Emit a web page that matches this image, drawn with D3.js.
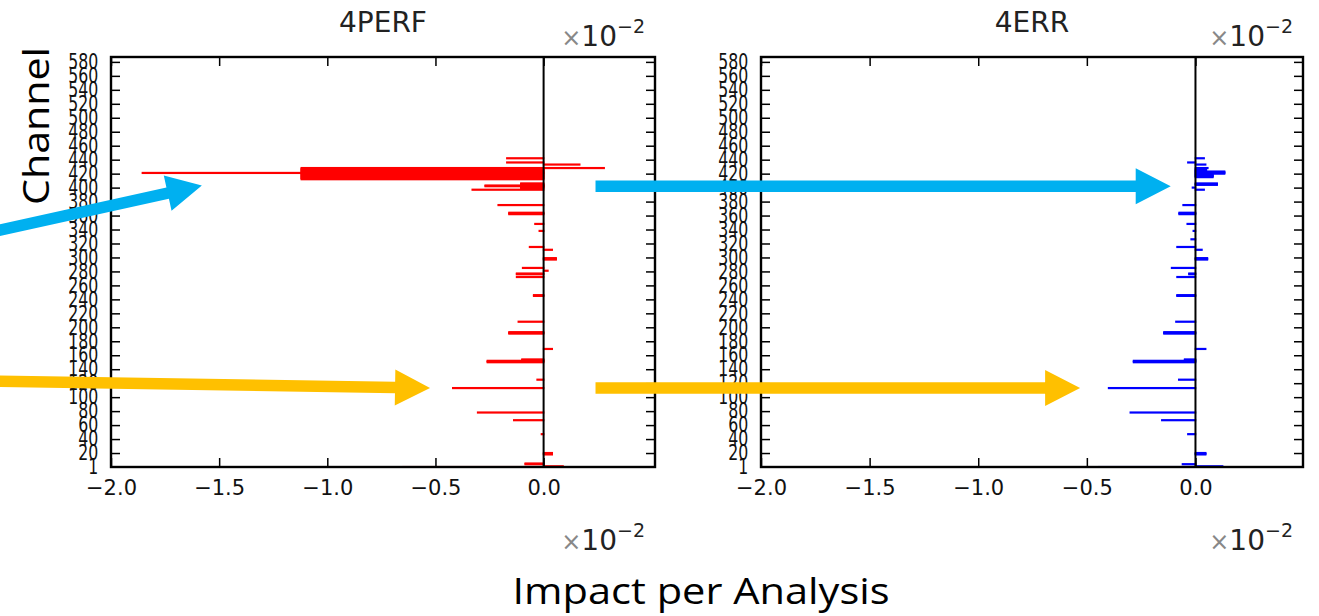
<!DOCTYPE html>
<html>
<head>
<meta charset="utf-8">
<script src="https://cdn.jsdelivr.net/npm/d3@7"></script>
<style>
  body { margin: 0; background: #fff; }
  svg text { font-family: "DejaVu Sans", sans-serif; }
  .axis path.domain { display: none; }
  .axis line { stroke: #000; stroke-width: 1.5; }
  .axis text { fill: #111; }
</style>
</head>
<body>
<div id="chart"></div>
<script>
// channel number / impact per analysis (units of 1e-2)
const perfChannels = [442, 436, 433, 428,
  412, 413, 414, 415, 416, 417, 418, 419, 420, 421, 422, 423, 424, 425, 426, 427, 428,
  421, 399, 400, 401, 402, 403, 404, 405, 406, 402, 403, 397,
  375, 362, 363, 364, 348, 338, 315, 311, 297, 298, 299, 285, 281, 276, 277, 272,
  245, 246, 208, 191, 192, 193, 169, 153, 154, 150, 151, 152, 125, 113, 78, 67, 47,
  18, 19, 20, 4, 5, 1];
const perfValues = [-0.17, -0.17, 0.167, 0.28,
  -1.12, -1.12, -1.12, -1.12, -1.12, -1.12, -1.12, -1.12, -1.12, -1.12, -1.12, -1.12, -1.12, -1.12, -1.12, -1.12, -1.12,
  -1.855, -0.105, -0.105, -0.105, -0.105, -0.105, -0.105, -0.105, -0.105, -0.27, -0.27, -0.33,
  -0.21, -0.16, -0.16, -0.16, -0.04, -0.02, -0.065, 0.04, 0.058, 0.058, 0.058, -0.097, 0.02, -0.125, -0.125, -0.125,
  -0.046, -0.046, -0.117, -0.16, -0.16, -0.16, 0.04, -0.1, -0.1, -0.26, -0.26, -0.26, -0.03, -0.42, -0.305, -0.138, -0.01,
  0.04, 0.04, 0.04, -0.085, -0.085, 0.09];

const errChannels = [442, 436, 433, 428, 424, 425, 426, 420, 421, 422, 423,
  415, 416, 417, 418, 419, 404, 405, 406, 400, 397,
  375, 362, 363, 364, 348, 338, 326, 315, 311, 297, 298, 299, 285, 276, 277, 272,
  245, 246, 208, 191, 192, 193, 169, 153, 154, 150, 151, 152, 125, 113, 78, 67, 47,
  18, 19, 20, 4, 1];
const errValues = [0.04, -0.035, 0.047, 0.057, 0.05, 0.05, 0.05, 0.134, 0.134, 0.134, 0.134,
  0.08, 0.08, 0.08, 0.08, 0.08, 0.1, 0.1, 0.1, -0.014, 0.04,
  -0.057, -0.075, -0.075, -0.075, -0.038, -0.01, -0.02, -0.085, 0.03, 0.055, 0.055, 0.055, -0.11, -0.03, -0.03, -0.085,
  -0.085, -0.085, -0.09, -0.145, -0.145, -0.145, 0.047, -0.05, -0.05, -0.285, -0.285, -0.285, -0.077, -0.4, -0.3, -0.155, -0.035,
  0.047, 0.047, 0.047, -0.06, 0.125];

// bars hidden under the bottom spine (channel 0), drawn faintly
const perfEdgeChannels = [0];
const perfEdgeValues = [-0.65];
const errEdgeChannels = [0];
const errEdgeValues = [-0.445];

const yTicks = [1, 20, 40, 60, 80, 100, 120, 140, 160, 180, 200, 220, 240, 260, 280,
  300, 320, 340, 360, 380, 400, 420, 440, 460, 480, 500, 520, 540, 560, 580];
const xTicks = [-2.0, -1.5, -1.0, -0.5, 0.0];
const titles = ["4PERF", "4ERR"];
const barColors = ["#ff0000", "#0000ff"];

// arrows: [panel, value, channel] for start and tip
const arrowColors = ["#00b0f0", "#00b0f0", "#ffc000", "#ffc000"];
const arrowFrom = [[0, -2.56, 336], [0, 0.24, 402], [0, -2.54, 123], [0, 0.24, 113]];
const arrowTo = [[0, -1.58, 403], [1, -0.114, 402], [0, -0.525, 113], [1, -0.531, 113]];

const W = 1319, H = 616;
const panels = [
  { left: 111, right: 655, top: 57, bottom: 467, xMax: 0.515, ch: perfChannels, val: perfValues, eCh: perfEdgeChannels, eVal: perfEdgeValues },
  { left: 761, right: 1303, top: 57, bottom: 467, xMax: 0.495, ch: errChannels, val: errValues, eCh: errEdgeChannels, eVal: errEdgeValues }
];

const svg = d3.select("#chart").append("svg")
  .attr("width", W).attr("height", H);

panels.forEach((p, i) => {
  p.x = d3.scaleLinear().domain([-2.0, p.xMax]).range([p.left, p.right]);
  p.y = d3.scaleLinear().domain([0, 587]).range([p.bottom, p.top]);
  const x = p.x, y = p.y;

  const clipId = "clip" + i;
  svg.append("clipPath").attr("id", clipId).append("rect")
    .attr("x", p.left).attr("y", p.top)
    .attr("width", p.right - p.left).attr("height", p.bottom - p.top);

  const g = svg.append("g").attr("clip-path", `url(#${clipId})`);

  const bars = p.ch.map((c, k) => ({ ch: c, v: p.val[k] }));
  const edge = p.eCh.map((c, k) => ({ ch: c, v: p.eVal[k] }));

  const drawBars = (data, opacity) => {
    g.selectAll(null).data(data).enter().append("rect")
      .attr("x", d => Math.min(x(d.v), x(0)))
      .attr("width", d => Math.abs(x(d.v) - x(0)))
      .attr("y", d => y(d.ch + 0.5))
      .attr("height", d => y(d.ch - 0.5) - y(d.ch + 0.5))
      .attr("fill", barColors[i])
      .attr("stroke", barColors[i])
      .attr("stroke-width", 1.5)
      .attr("opacity", opacity);
  };
  drawBars(edge, 0.35);
  drawBars(bars, 1);

  // zero line
  g.append("line")
    .attr("x1", x(0)).attr("x2", x(0))
    .attr("y1", p.top).attr("y2", p.bottom)
    .attr("stroke", "#000").attr("stroke-width", 2);

  // axes, ticks pointing inward
  const yl = svg.append("g").attr("class", "axis")
    .attr("transform", `translate(${p.left},0)`)
    .call(d3.axisLeft(y).tickValues(yTicks).tickSize(-9).tickPadding(17));
  yl.selectAll("text")
    .attr("font-size", 21)
    .attr("transform", "scale(0.75,1)");

  svg.append("g").attr("class", "axis")
    .attr("transform", `translate(${p.right},0)`)
    .call(d3.axisRight(y).tickValues(yTicks).tickSize(-9).tickFormat(""));

  svg.append("g").attr("class", "axis")
    .attr("transform", `translate(0,${p.bottom})`)
    .call(d3.axisBottom(x).tickValues(xTicks).tickSize(-9).tickPadding(13).tickFormat(d3.format(".1f")))
    .selectAll("text").attr("font-size", 21);

  svg.append("g").attr("class", "axis")
    .attr("transform", `translate(0,${p.top})`)
    .call(d3.axisTop(x).tickValues(xTicks).tickSize(-9).tickFormat(""));

  // frame
  svg.append("rect")
    .attr("x", p.left).attr("y", p.top)
    .attr("width", p.right - p.left).attr("height", p.bottom - p.top)
    .attr("fill", "none").attr("stroke", "#000").attr("stroke-width", 2.4);

  // title
  svg.append("text")
    .attr("x", (p.left + p.right) / 2).attr("y", 32)
    .attr("text-anchor", "middle").attr("font-size", 28)
    .attr("fill", "#222")
    .text(titles[i]);

  // offset text x10^-2 above and below
  [46, 550].forEach(by => {
    const t = svg.append("text")
      .attr("x", p.right - 10).attr("y", by)
      .attr("text-anchor", "end").attr("fill", "#222");
    t.append("tspan").attr("font-size", 24).attr("fill", "#888").text("×");
    t.append("tspan").attr("font-size", 28).text("10");
    t.append("tspan").attr("font-size", 19).attr("dy", -13).text("−2");
  });
});

// annotation arrows
const arrowPath = (x1, y1, x2, y2) => {
  const dx = x2 - x1, dy = y2 - y1, len = Math.hypot(dx, dy);
  const ux = dx / len, uy = dy / len, nx = -uy, ny = ux;
  const sw = 5.8, hw = 18, hl = 35;
  const bx = x2 - ux * hl, by = y2 - uy * hl;
  const pts = [
    [x1 + nx * sw, y1 + ny * sw], [bx + nx * sw, by + ny * sw], [bx + nx * hw, by + ny * hw],
    [x2, y2],
    [bx - nx * hw, by - ny * hw], [bx - nx * sw, by - ny * sw], [x1 - nx * sw, y1 - ny * sw]
  ];
  return "M" + pts.map(q => q.join(",")).join("L") + "Z";
};

svg.append("g").selectAll("path")
  .data(arrowColors)
  .enter().append("path")
  .attr("fill", d => d)
  .attr("d", (d, k) => {
    const f = arrowFrom[k], t = arrowTo[k];
    const pf = panels[f[0]], pt = panels[t[0]];
    return arrowPath(pf.x(f[1]), pf.y(f[2]), pt.x(t[1]), pt.y(t[2]));
  });

// figure labels
svg.append("text")
  .attr("transform", "translate(49,126) rotate(-90)")
  .attr("text-anchor", "middle")
  .attr("font-size", 36)
  .attr("textLength", 158).attr("lengthAdjust", "spacingAndGlyphs")
  .style("font-family", "'Open Sans', 'Noto Sans', sans-serif")
  .text("Channel");

svg.append("text")
  .attr("x", 701).attr("y", 604)
  .attr("text-anchor", "middle")
  .attr("font-size", 36)
  .attr("textLength", 377).attr("lengthAdjust", "spacingAndGlyphs")
  .style("font-family", "'Open Sans', 'Noto Sans', sans-serif")
  .text("Impact per Analysis");
</script>
</body>
</html>
